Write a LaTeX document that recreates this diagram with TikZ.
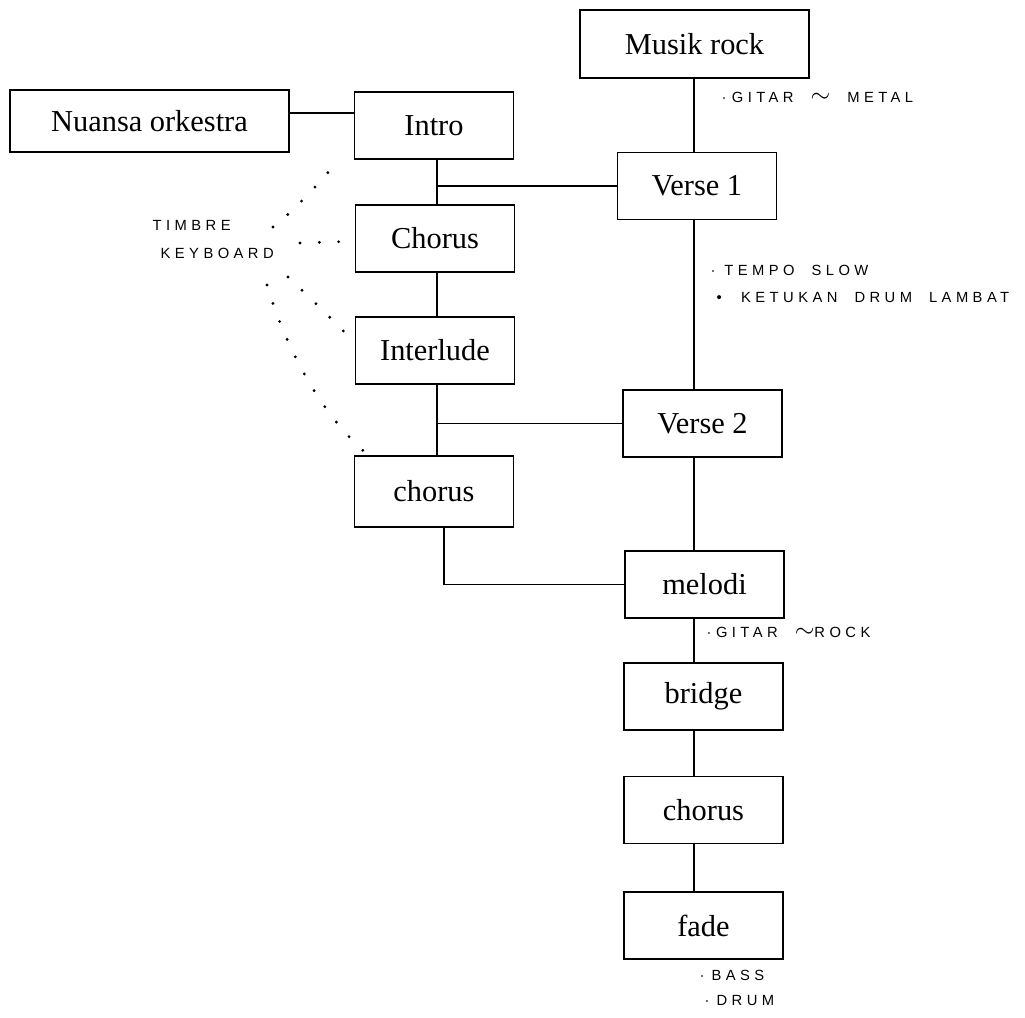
\documentclass[tikz,border=0pt]{standalone}
\usepackage{fontspec}
\setmainfont{Liberation Serif}
\newfontfamily\handfont[LetterSpace=30, WordSpace=2.0]{Liberation Sans}
\newcommand{\handtilde}{{\fontsize{15}{15}\selectfont$\sim$}}
\begin{document}
\begin{tikzpicture}[x=0.02cm, y=-0.02cm, line width=0.8pt,
    part/.style={draw, inner sep=0pt, minimum width=3.18cm, minimum height=1.34cm,
      font=\fontsize{17.3}{20}\selectfont},
    note/.style={anchor=west, inner sep=0pt, font=\handfont\fontsize{8.4}{9}\selectfont},
    hand dots/.style={line width=1.8pt, line cap=round, dash pattern=on 0pt off 11pt}]
    \useasboundingbox (0,0) rectangle (1025,1018);

    % Song parts, left column
    \node[part, minimum width=5.58cm, minimum height=1.24cm] (nuansa) at (149.5,121) {Nuansa orkestra};
    \node[part] (intro) at (434,125.5) {Intro};
    \node[part] (chorusA) at (435,238.5) {Chorus};
    \node[part] (interlude) at (435,350.5) {Interlude};
    \node[part, minimum height=1.42cm] (chorusB) at (434,491.5) {chorus};

    % Song parts, right column
    \node[part, minimum width=4.58cm, minimum height=1.36cm] (rock) at (694.5,44) {Musik rock};
    \node[part] (verse1) at (697,186) {Verse 1};
    \node[part] (verse2) at (702.5,423.5) {Verse 2};
    \node[part] (melodi) at (704.5,584.5) {melodi};
    \node[part] (bridge) at (703.5,696.5) {bridge};
    \node[part] (chorusC) at (703.5,810) {chorus};
    \node[part] (fade) at (703.5,925.5) {fade};

    % Spines
    \coordinate (spineL) at (437,0);
    \coordinate (spineR) at (694,0);

    % Connectors
    \draw (nuansa.east |- 0,113) -- (intro.west |- 0,113);
    \draw (intro.south -| spineL) -- (chorusA.north -| spineL);
    \draw (chorusA.south -| spineL) -- (interlude.north -| spineL);
    \draw (interlude.south -| spineL) -- (chorusB.north -| spineL);
    \draw (verse1.west) -- (verse1.west -| spineL);
    \draw (verse2.west) -- (verse2.west -| spineL);
    \draw (chorusB.south -| 444,0) |- (melodi.west);
    \draw (rock.south -| spineR) -- (verse1.north -| spineR);
    \draw (verse1.south -| spineR) -- (verse2.north -| spineR);
    \draw (verse2.south -| spineR) -- (melodi.north -| spineR);
    \draw (melodi.south -| spineR) -- (bridge.north -| spineR);
    \draw (bridge.south -| spineR) -- (chorusC.north -| spineR);
    \draw (chorusC.south -| spineR) -- (fade.north -| spineR);

    % Handwritten notes
    \node[note] (timbre) at (152,225) {TIMBRE};
    \node[note] (keyboard) at (160,253) {KEYBOARD};
    \node[note] (metal) at (721,97) {·\hspace{3pt}GITAR \handtilde{} METAL};
    \node[note] (tempo) at (710,270) {·\hspace{5pt}TEMPO SLOW};
    \node[note] (drumslow) at (716,297) {•\hspace{11pt}KETUKAN DRUM LAMBAT};
    \node[note] (gitarrock) at (706,632) {·GITAR \handtilde ROCK};
    \node[note] (bass) at (699,975) {·\hspace{4pt}BASS};
    \node[note] (drum) at (704,1000) {·\hspace{4pt}DRUM};

    % Dotted strokes from the keyboard note
    \coordinate (dotA) at (273,227);
    \coordinate (dotB) at (300,243);
    \coordinate (dotC) at (288,277);
    \coordinate (dotD) at (267,285);
    \draw[hand dots] (dotA) .. controls (295,210) and (322,180) .. ([shift={(-15,0)}]intro.south west);
    \draw[hand dots] (dotB) -- ([shift={(-8,3)}]chorusA.west);
    \draw[hand dots] (dotC) .. controls (305,293) and (325,312) .. ([shift={(-10,-18)}]interlude.west);
    \draw[hand dots] (dotD) .. controls (285,345) and (318,410) .. ([shift={(10,-4)}]chorusB.north west);
\end{tikzpicture}
\end{document}
